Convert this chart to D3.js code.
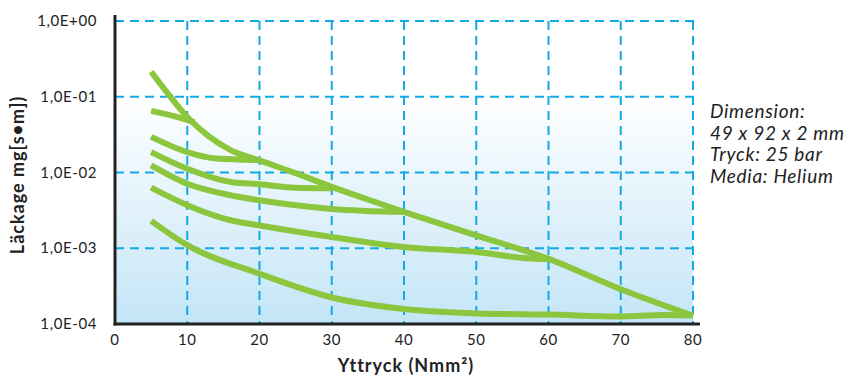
<!DOCTYPE html>
<html lang="sv">
<head>
<meta charset="utf-8">
<title>Läckage vs yttryck</title>
<script src="https://d3js.org/d3.v7.min.js"></script>
<style>
  body { margin: 0; background: #fff; }
  svg { display: block; font-family: Lato, "Open Sans", sans-serif; }
  .tick-label { font-size: 15px; fill: #222; letter-spacing: 0.6px; }
  .axis-title { font-size: 18px; font-weight: bold; fill: #222; letter-spacing: 1px; }
  .note { font-size: 19px; font-style: italic; fill: #222; letter-spacing: 0.7px; }
</style>
</head>
<body>
<svg width="850" height="378"></svg>
<script>
// tick values
const xTicks = [0, 10, 20, 30, 40, 50, 60, 70, 80];
const yTicks = [1, 0.1, 0.01, 0.001, 0.0001];
const yTickLabels = ["1,0E+00", "1,0E-01", "1,0E-02", "1,0E-03", "1,0E-04"];
const noteLines = ["Dimension:", "49 x 92 x 2 mm", "Tryck: 25 bar", "Media: Helium"];

// curves (pressure, leakage)
const envX = [5, 7.5, 10, 13, 16, 20, 25, 30, 35, 40, 50, 60, 70, 80];
const envY = [0.214, 0.105, 0.054, 0.03, 0.0197, 0.01445, 0.0098, 0.00646, 0.0044, 0.00302, 0.00148, 0.000724, 0.000288, 0.000129];
const c2X = [5, 8, 11];
const c2Y = [0.065, 0.056, 0.046];
const c3X = [5, 10, 14, 20];
const c3Y = [0.0295, 0.0186, 0.0153, 0.0146];
const c4X = [5, 10, 16, 20, 25, 30];
const c4Y = [0.0186, 0.0112, 0.0075, 0.0070, 0.0063, 0.0062];
const c5X = [5, 10, 16, 20, 30, 40];
const c5Y = [0.0124, 0.0071, 0.0050, 0.0043, 0.0033, 0.0030];
const c6X = [5, 10, 16, 20, 30, 40, 50, 57, 60];
const c6Y = [0.0063, 0.0037, 0.00234, 0.0020, 0.00141, 0.00104, 0.00089, 0.00074, 0.00072];
const c7X = [5, 10, 20, 30, 40, 50, 60, 70, 76, 80];
const c7Y = [0.0023, 0.0011, 0.00046, 0.000224, 0.000158, 0.000138, 0.000133, 0.000126, 0.000131, 0.000129];

const series = [[envX, envY], [c2X, c2Y], [c3X, c3Y], [c4X, c4Y], [c5X, c5Y], [c6X, c6Y], [c7X, c7Y]];

const svg = d3.select("svg");

const x = d3.scaleLinear().domain([0, 80]).range([115, 693]);
const y = d3.scaleLog().domain([0.0001, 1]).range([324, 21]);

// background gradient
const grad = svg.append("defs").append("linearGradient")
  .attr("id", "bg").attr("x1", 0).attr("y1", 0).attr("x2", 0).attr("y2", 1);
grad.append("stop").attr("offset", "0%").attr("stop-color", "#ffffff");
grad.append("stop").attr("offset", "25%").attr("stop-color", "#ffffff");
grad.append("stop").attr("offset", "100%").attr("stop-color", "#c4e5f7");

svg.append("rect")
  .attr("x", x(0)).attr("y", y(1))
  .attr("width", x(80) - x(0)).attr("height", y(0.0001) - y(1))
  .attr("fill", "url(#bg)");

// grid
const gridColor = "#12a9e6";
svg.append("g").selectAll("line")
  .data(xTicks.slice(1))
  .join("line")
  .attr("x1", d => x(d)).attr("x2", d => x(d))
  .attr("y1", y(1)).attr("y2", y(0.0001))
  .attr("stroke", gridColor).attr("stroke-width", 2)
  .attr("stroke-dasharray", "9,6");

svg.append("g").selectAll("line")
  .data(yTicks.slice(0, 4))
  .join("line")
  .attr("x1", x(0)).attr("x2", 700)
  .attr("y1", d => y(d)).attr("y2", d => y(d))
  .attr("stroke", gridColor).attr("stroke-width", 2)
  .attr("stroke-dasharray", "9,6");

// curves
const line = d3.line()
  .x(d => x(d[0]))
  .y(d => y(d[1]))
  .curve(d3.curveMonotoneX);

svg.append("g").selectAll("path")
  .data(series.map(s => s[0].map((v, i) => [v, s[1][i]])))
  .join("path")
  .attr("d", line)
  .attr("fill", "none")
  .attr("stroke", "#8cc63f")
  .attr("stroke-width", 6);

// axes lines
svg.append("line")
  .attr("x1", x(0)).attr("x2", x(0))
  .attr("y1", 15).attr("y2", y(0.0001) + 1.5)
  .attr("stroke", "#222").attr("stroke-width", 3);
svg.append("line")
  .attr("x1", x(0) - 1.5).attr("x2", 700)
  .attr("y1", y(0.0001)).attr("y2", y(0.0001))
  .attr("stroke", "#222").attr("stroke-width", 3);

// tick labels
svg.append("g").selectAll("text")
  .data(xTicks)
  .join("text")
  .attr("class", "tick-label")
  .attr("x", d => x(d)).attr("y", 345)
  .attr("text-anchor", "middle")
  .text(d => d);

svg.append("g").selectAll("text")
  .data(yTicks)
  .join("text")
  .attr("class", "tick-label")
  .attr("x", 97).attr("y", d => y(d) + 5)
  .attr("text-anchor", "end")
  .text((d, i) => yTickLabels[i]);

// axis titles
svg.append("text")
  .attr("class", "axis-title")
  .attr("x", 406).attr("y", 372)
  .attr("text-anchor", "middle")
  .text("Yttryck (Nmm²)");

svg.append("text")
  .attr("class", "axis-title")
  .attr("transform", "translate(24,175) rotate(-90)")
  .attr("text-anchor", "middle")
  .text("Läckage mg[s•m])");

// note
svg.append("g").selectAll("text")
  .data(noteLines)
  .join("text")
  .attr("class", "note")
  .attr("x", 710).attr("y", (d, i) => 118 + i * 21.7)
  .text(d => d);
</script>
</body>
</html>
